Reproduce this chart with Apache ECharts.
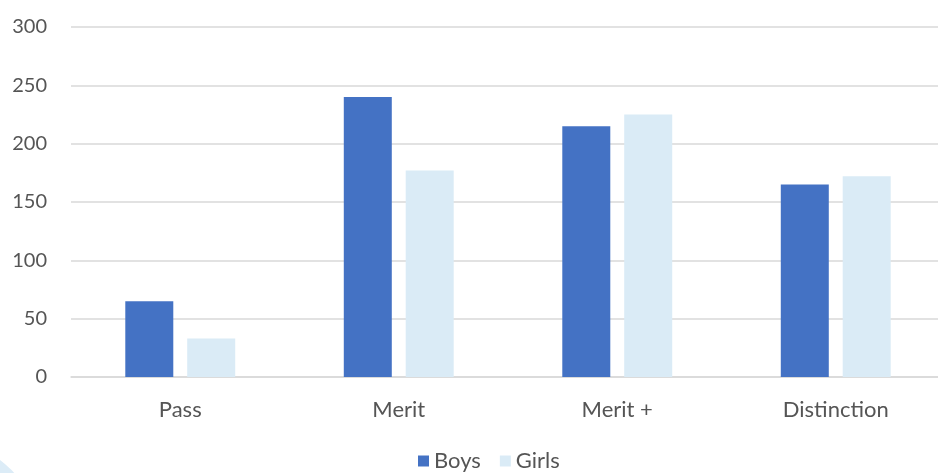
<!DOCTYPE html>
<html>
<head>
<meta charset="utf-8">
<script src="https://cdn.jsdelivr.net/npm/echarts@6/dist/echarts.min.js"></script>
<style>
html,body{margin:0;padding:0;background:#fff;overflow:hidden;width:938px;height:473px;}
#c{width:946px;height:473px;}
</style>
</head>
<body>
<div id="c"></div>
<script>
const categories = ['Pass', 'Merit', 'Merit +', 'Distinction'];
const boys = [65, 240, 215, 165];
const girls = [33, 177, 225, 172];
const yTicks = { min: 0, max: 300, interval: 50 };

const chart = echarts.init(document.getElementById('c'), null, { renderer: 'canvas' });
const textColor = '#555555';
const fontFamily = 'Lato, "Open Sans", sans-serif';
chart.setOption({
  animation: false,
  backgroundColor: '#ffffff',
  textStyle: { fontFamily: fontFamily },
  grid: { left: 71, right: 1, top: 27, bottom: 96, containLabel: false },
  legend: {
    top: 445,
    left: 413,
    itemWidth: 11,
    itemHeight: 11,
    itemGap: 19,
    icon: 'rect',
    textStyle: { color: textColor, fontSize: 22, fontFamily: fontFamily },
    data: ['Boys', 'Girls']
  },
  xAxis: {
    type: 'category',
    data: categories,
    axisLine: { show: true, lineStyle: { color: '#D9D9D9', width: 1.5 } },
    axisTick: { show: false },
    axisLabel: { color: textColor, fontSize: 22, margin: 22, fontFamily: fontFamily }
  },
  yAxis: {
    type: 'value',
    min: yTicks.min,
    max: yTicks.max,
    interval: yTicks.interval,
    axisLine: { show: false },
    axisTick: { show: false },
    axisLabel: { color: textColor, fontSize: 20, margin: 24, fontFamily: fontFamily },
    splitLine: { lineStyle: { color: '#D9D9D9', width: 1.5 } }
  },
  series: [
    { name: 'Boys', type: 'bar', data: boys, barWidth: 48, barGap: '29%', itemStyle: { color: '#4472C4' } },
    { name: 'Girls', type: 'bar', data: girls, barWidth: 48, itemStyle: { color: '#DAEBF6' } }
  ],
  graphic: [
    { type: 'circle', shape: { cx: -60, cy: 540, r: 100 }, style: { fill: '#DCECF7' }, silent: true }
  ]
});
</script>
</body>
</html>
